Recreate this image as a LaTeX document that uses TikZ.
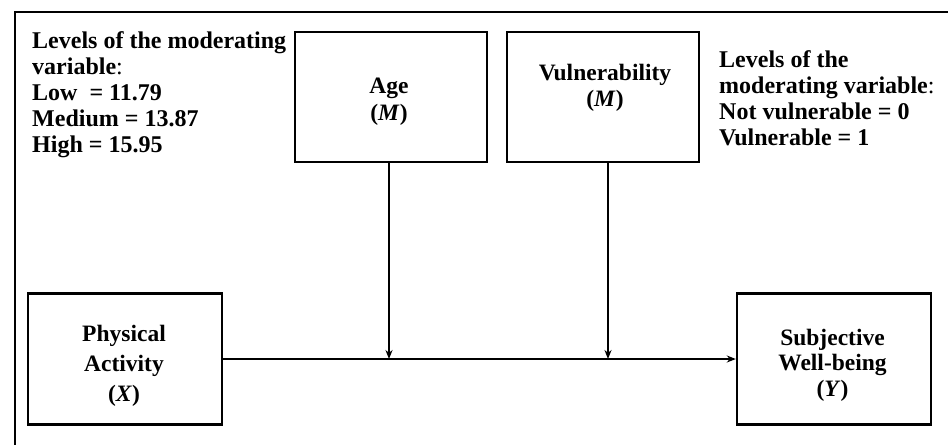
\documentclass[tikz,border=0pt]{standalone}
\usepackage{fontspec}
\setmainfont{Liberation Serif}
\usetikzlibrary{arrows.meta}
\begin{document}
\begin{tikzpicture}[x=1pt,y=-1pt,
  box/.style={draw,line width=2.4pt,minimum width=192pt,minimum height=130pt,inner sep=0pt},
  boxtext/.style={align=center,inner sep=0pt,font=\fontsize{23.5}{#1}\selectfont\bfseries},
  lvl/.style={align=left,anchor=north west,inner sep=0pt,font=\fontsize{24}{26}\selectfont\bfseries},
  conn/.style={line width=1.8pt,-{Stealth[length=9pt,width=7pt]}}]
\useasboundingbox (0,0) rectangle (948,445);
\draw[line width=1.8pt] (948,12) -- (15,12) -- (15,445);
\node[box] (age) at (391,97) {};
\node[box] (vul) at (603,97) {};
\node[box,minimum width=194pt,minimum height=131pt] (pa) at (125,359) {};
\node[box,minimum width=194pt,minimum height=131pt] (sw) at (834,359) {};
\node[boxtext=27] (agetxt) at (389,102) {Age\\(\textit{M})};
\node[boxtext=26] (vultxt) at (605,87.5) {Vulnerability\\(\textit{M})};
\node[boxtext=30] (patxt) at (124,365.5) {Physical\\Activity\\(\textit{X})};
\node[boxtext=25.5] (swtxt) at (832.5,365) {Subjective\\Well-being\\(\textit{Y})};
\node[lvl] (lvlA) at (32,31) {Levels of the moderating\\variable{\mdseries:}\\Low\ \ = 11.79\\Medium = 13.87\\High = 15.95};
\node[lvl] (lvlB) at (719,50.5) {Levels of the\\moderating variable{\mdseries:}\\Not vulnerable = 0\\Vulnerable = 1};
\coordinate (ja) at (389,359);
\coordinate (jv) at (608,359);
\draw[conn,line width=2.8pt] (pa.east) -- (sw.west);
\draw[conn] (age.south -| ja) -- (ja);
\draw[conn] (vul.south -| jv) -- (jv);
\end{tikzpicture}
\end{document}
